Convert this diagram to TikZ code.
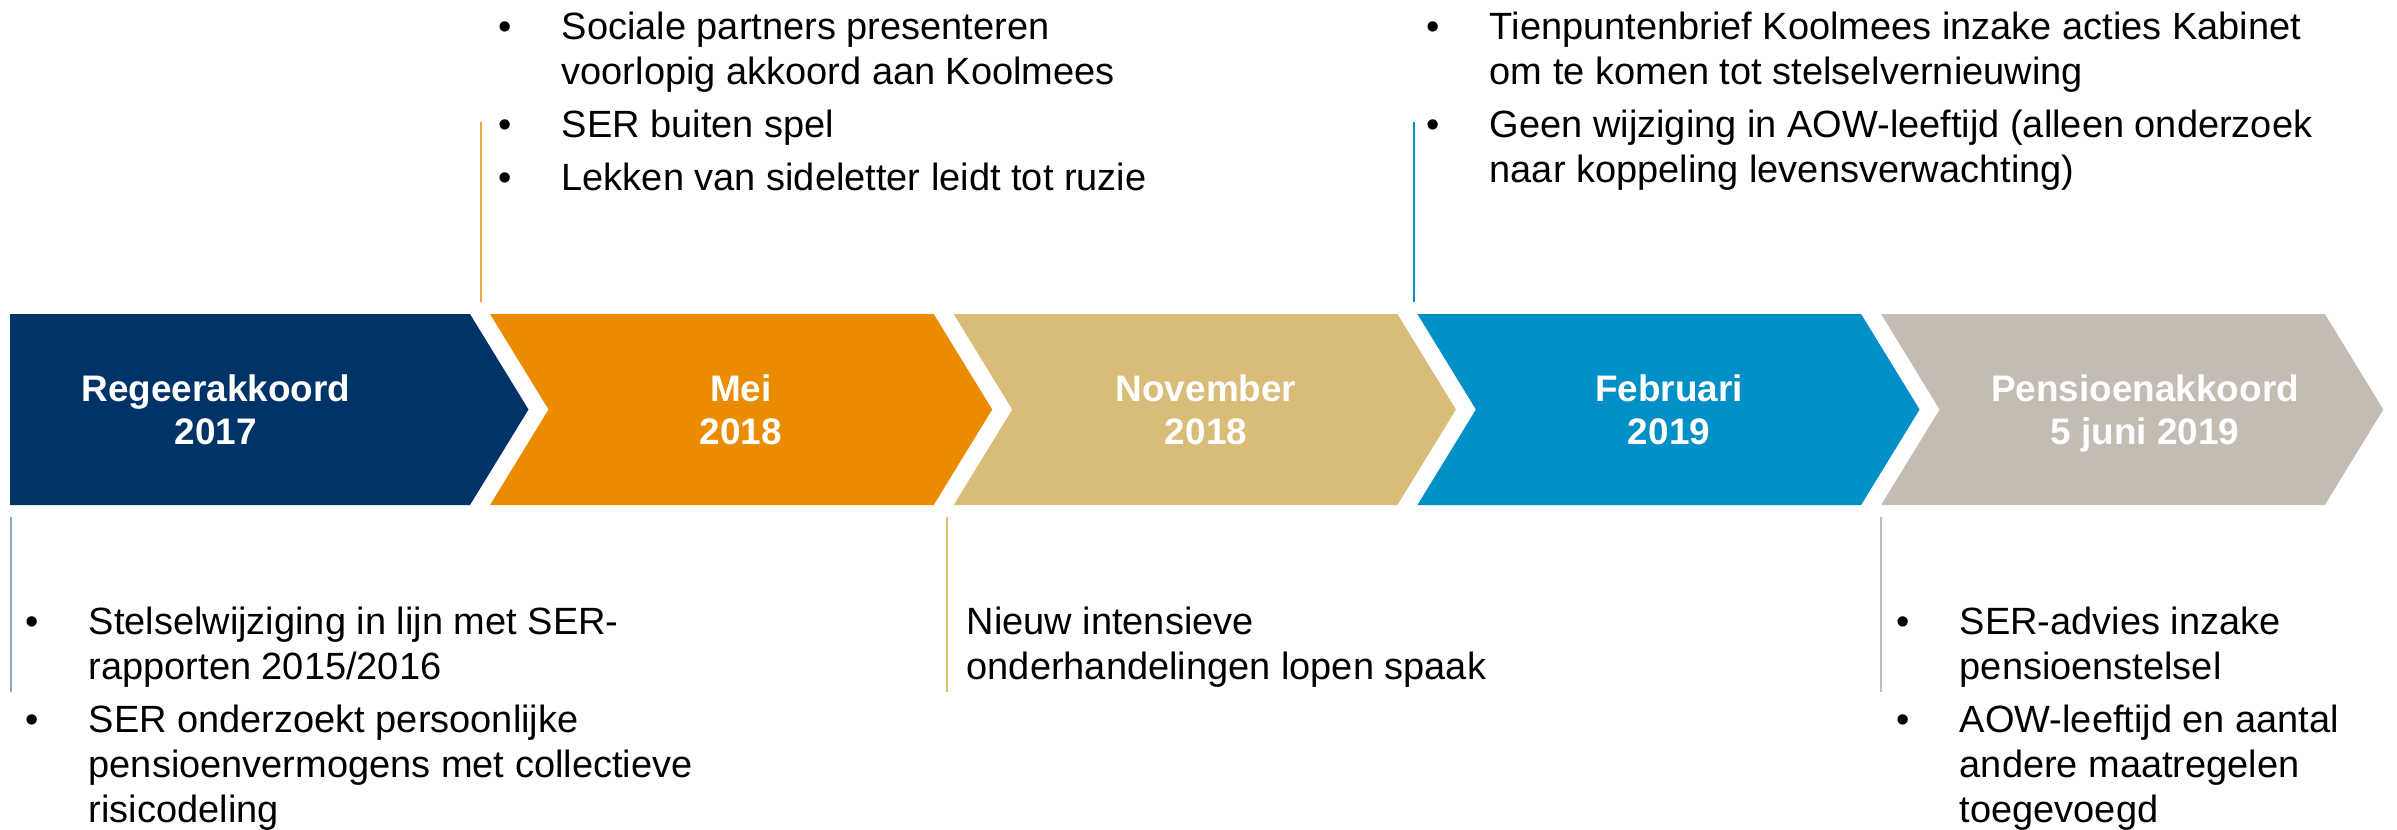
\documentclass[tikz,border=0pt]{standalone}
\usepackage{fontspec}
\setmainfont{Liberation Sans}
\usepackage{tikz}
\usetikzlibrary{positioning}

\definecolor{regeerblue}{RGB}{0,52,104}
\definecolor{meiorange}{RGB}{234,139,0}
\definecolor{novkhaki}{RGB}{216,188,120}
\definecolor{febblue}{RGB}{0,143,198}
\definecolor{pensgrey}{RGB}{195,188,178}

% bullet items with hanging indent
\newlength{\bulind}\setlength{\bulind}{0.63cm}
\newcommand{\bul}{\par\hangindent=\bulind\hangafter=1\noindent\makebox[\bulind][l]{\textbullet}}
\newcommand{\blist}[1]{\parbox[t]{12cm}{\setlength{\parskip}{0.08cm}#1}}

\tikzset{
  chevlabel/.style={text=white, anchor=base, inner sep=0pt,
    font=\fontsize{10.5pt}{12.3pt}\selectfont\bfseries},
  eventtext/.style={anchor=base west, inner sep=0pt,
    font=\fontsize{10.8pt}{12.8pt}\selectfont},
  tickline/.style={line width=0.5pt}
}

\begin{document}
\begin{tikzpicture}[x=0.01cm, y=-0.01cm]
\useasboundingbox (0,0) rectangle (2397,829);

% first chevron (flat left side)
\fill[regeerblue] (10,314) -- (470,314) -- (528.5,409.5) -- (470,505) -- (10,505) -- cycle;

% other chevrons
\foreach \k/\col in {1/meiorange, 2/novkhaki, 3/febblue, 4/pensgrey}{
  \pgfmathsetmacro{\s}{490+463.7*(\k-1)}
  \pgfmathsetmacro{\e}{470+463.7*\k}
  \fill[\col] (\s,314) -- (\e,314) -- (\e+58.5,409.5) -- (\e,505) -- (\s,505)
    -- (\s+58.5,409.5) -- cycle;
}

% chevron labels
\node[chevlabel] (lblRegeer) at (216,401) {\parbox[t]{4cm}{\centering Regeerakkoord\\2017}};
\node[chevlabel] (lblMei) at (741,401) {\parbox[t]{4cm}{\centering Mei\\2018}};
\node[chevlabel] (lblNov) at (1206,401) {\parbox[t]{4cm}{\centering November\\2018}};
\node[chevlabel] (lblFeb) at (1669,401) {\parbox[t]{4cm}{\centering Februari\\2019}};
\node[chevlabel] (lblPens) at (2145,401) {\parbox[t]{4cm}{\centering Pensioenakkoord\\5 juni 2019}};

% thin marker lines
\draw[tickline, regeerblue!45] (11,517) -- (11,692);
\draw[tickline, meiorange!75] (481,122) -- (481,302);
\draw[tickline, novkhaki] (947,517) -- (947,692);
\draw[tickline, febblue] (1414,122) -- (1414,302);
\draw[tickline, pensgrey] (1881,517) -- (1881,692);

% texts above the arrows
\node[eventtext] (txtMei) at (498,39) {\blist{%
  \bul Sociale partners presenteren\\voorlopig akkoord aan Koolmees
  \bul SER buiten spel
  \bul Lekken van sideletter leidt tot ruzie}};
\node[eventtext] (txtFeb) at (1426,39) {\blist{%
  \bul Tienpuntenbrief Koolmees inzake acties Kabinet\\om te komen tot stelselvernieuwing
  \bul Geen wijziging in AOW-leeftijd (alleen onderzoek\\naar koppeling levensverwachting)}};

% texts below the arrows
\node[eventtext] (txtRegeer) at (25,634) {\blist{%
  \bul Stelselwijziging in lijn met SER-\\rapporten 2015/2016
  \bul SER onderzoekt persoonlijke\\pensioenvermogens met collectieve\\risicodeling}};
\node[eventtext] (txtNov) at (966,634) {\blist{%
  Nieuw intensieve\\onderhandelingen lopen spaak}};
\node[eventtext] (txtPens) at (1896,634) {\blist{%
  \bul SER-advies inzake\\pensioenstelsel
  \bul AOW-leeftijd en aantal\\andere maatregelen\\toegevoegd}};

\end{tikzpicture}
\end{document}
